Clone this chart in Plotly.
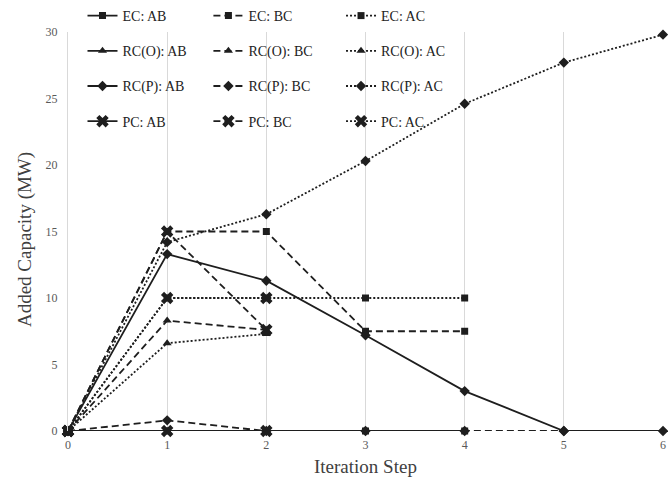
import plotly.graph_objects as go

steps = [0, 1, 2, 3, 4, 5, 6]

EC_AB = [0, 0, 0, 0, 0]
EC_BC = [0, 15, 15, 7.5, 7.5]
EC_AC = [0, 10, 10, 10, 10]
RCO_AB = [0, 0, 0]
RCO_BC = [0, 8.3, 7.6]
RCO_AC = [0, 6.6, 7.3]
RCP_AB = [0, 13.3, 11.3, 7.2, 3.0, 0, 0]
RCP_BC = [0, 0.8, 0, 0, 0, 0]
RCP_AC = [0, 14.2, 16.3, 20.3, 24.6, 27.7, 29.8]
PC_AB = [0, 0, 0]
PC_BC = [0, 15, 7.6]
PC_AC = [0, 10, 10]

y_ticks = [0, 5, 10, 15, 20, 25, 30]

series = [
    ("EC: AB", EC_AB, "solid", "square", "legend"),
    ("EC: BC", EC_BC, "dash", "square", "legend2"),
    ("EC: AC", EC_AC, "dot", "square", "legend3"),
    ("RC(O): AB", RCO_AB, "solid", "triangle-up", "legend"),
    ("RC(O): BC", RCO_BC, "dash", "triangle-up", "legend2"),
    ("RC(O): AC", RCO_AC, "dot", "triangle-up", "legend3"),
    ("RC(P): AB", RCP_AB, "solid", "diamond", "legend"),
    ("RC(P): BC", RCP_BC, "dash", "diamond", "legend2"),
    ("RC(P): AC", RCP_AC, "dot", "diamond", "legend3"),
    ("PC: AB", PC_AB, "solid", "x", "legend"),
    ("PC: BC", PC_BC, "dash", "x", "legend2"),
    ("PC: AC", PC_AC, "dot", "x", "legend3"),
]

dash_map = {"solid": "solid", "dash": "7px,4px", "dot": "2px,2px"}
size_map = {"square": 7, "triangle-up": 8, "diamond": 8, "x": 11}
col = "#1e1e1e"

fig = go.Figure()
for i, (name, vals, dash, sym, leg) in enumerate(series):
    fig.add_trace(go.Scatter(
        x=steps[:len(vals)], y=vals, name=name, mode="lines+markers",
        line=dict(color=col, width=1.8, dash=dash_map[dash]),
        marker=dict(symbol=sym, size=size_map[sym], color=col,
                    line=dict(width=0)),
        legend=leg, legendgroup=name, cliponaxis=False,
    ))

leg_common = dict(font=dict(family="Liberation Serif", size=14, color="#222"),
                  bgcolor="rgba(0,0,0,0)", borderwidth=0,
                  xref="container", yref="container", yanchor="top",
                  xanchor="left", tracegroupgap=14, itemwidth=30)

fig.update_layout(
    width=668, height=488,
    margin=dict(l=68, r=5, t=32, b=57, autoexpand=False),
    paper_bgcolor="white", plot_bgcolor="white",
    font=dict(family="Liberation Serif", color="#595959"),
    showlegend=True,
    legend=dict(x=0.1235, y=1.006, **leg_common),
    legend2=dict(x=0.312, y=1.006, **leg_common),
    legend3=dict(x=0.5105, y=1.006, **leg_common),
    xaxis=dict(range=[0, 6], tickvals=steps, showgrid=True, gridcolor="#d9d9d9",
               gridwidth=1, zeroline=False, showline=False, automargin=False,
               ticklabelstandoff=5,
               tickfont=dict(size=12, color="#595959")),
    yaxis=dict(range=[0, 30], tickvals=y_ticks, showgrid=False, zeroline=False,
               showline=True, linecolor="#d9d9d9", linewidth=1, automargin=False,
               ticklabelstandoff=7,
               tickfont=dict(size=12, color="#595959")),
    annotations=[
        dict(text="Iteration Step", x=0.5, y=-0.09, xref="paper", yref="paper",
             xanchor="center", yanchor="middle", showarrow=False,
             font=dict(size=19, color="#404040")),
        dict(text="Added Capacity (MW)", x=-0.072, y=0.479, xref="paper", yref="paper",
             xanchor="center", yanchor="middle", showarrow=False, textangle=-90,
             font=dict(size=19, color="#404040")),
    ],
)

fig.write_html("out.html", config={"displayModeBar": False},
               post_script="document.body.style.margin='0px';")
